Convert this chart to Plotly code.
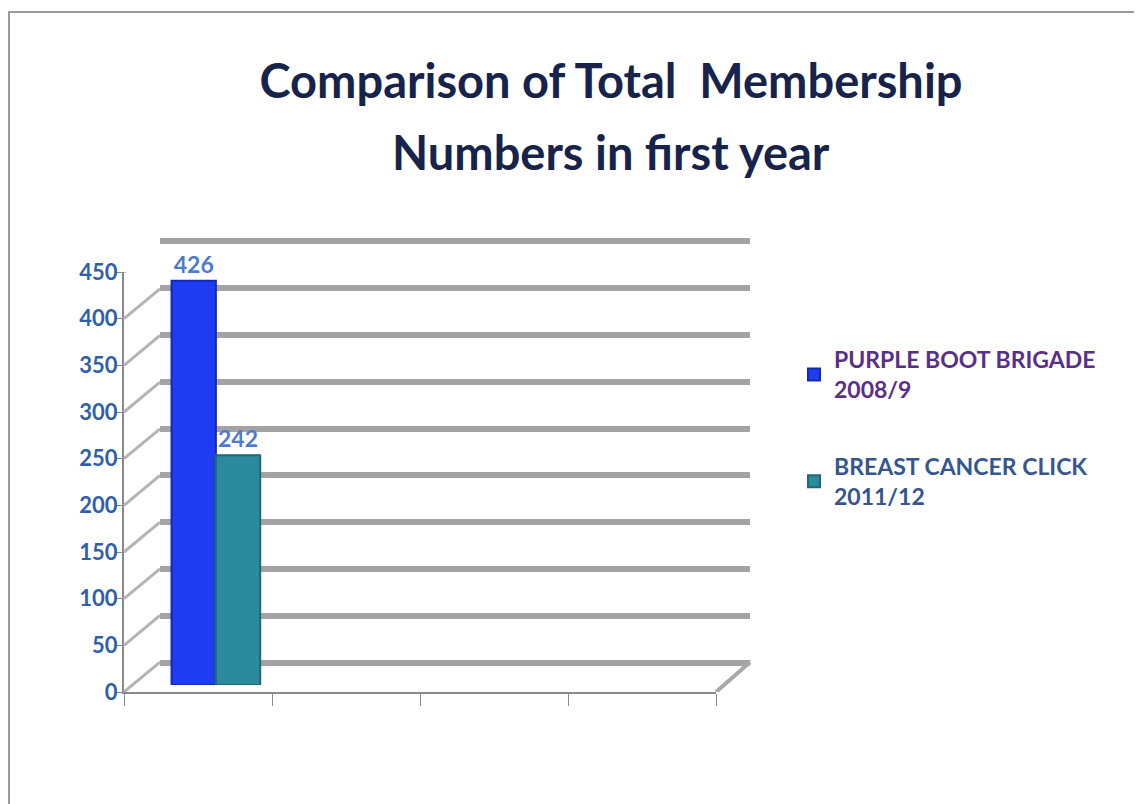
"""
Comparison of total membership numbers in the first year (3D-style bar chart).
"""
import plotly.graph_objects as go

# data
title_lines = ["Comparison of Total  Membership", "Numbers in first year"]
series_names = ["PURPLE BOOT BRIGADE<br>2008/9", "BREAST CANCER CLICK<br>2011/12"]
series_values = [426, 242]
category = ["first year"]
y_ticks = [0, 50, 100, 150, 200, 250, 300, 350, 400, 450]

bar_colors = ["#1e3cf2", "#2b8a9c"]
bar_edges = ["#1428b8", "#1f6876"]
legend_colors = ["#5a2f88", "#35578c"]

PAGE_OFFSET = 8  # default body margin of the html page
W, H = 1142 - PAGE_OFFSET, 804 - PAGE_OFFSET


def px_x(p):
    return (p - PAGE_OFFSET) / W


def px_y(p):
    return (H - (p - PAGE_OFFSET)) / H


# front face, back wall and a middle plane for the bars (fake depth)
front_x = [px_x(124), px_x(716)]
front_y = [px_y(692), px_y(272)]
back_x = [px_x(160), px_x(750)]
mid_x = [px_x(142), px_x(733)]
mid_y = [px_y(685), px_y(258)]
depth_units = 32  # vertical shift of the back wall, in y units

# back wall: 0 at 663px, 450 at 241px, padded so edge grid lines get drawn
back_pad = 10
back_scale = (663 - 241) / 450
back_y = [px_y(663 + back_pad * back_scale), px_y(241 - back_pad * back_scale)]
back_range = [-back_pad, 450 + back_pad]

fig = go.Figure()

for name, val, col, edge, lcol in zip(series_names, series_values, bar_colors,
                                      bar_edges, legend_colors):
    fig.add_trace(
        go.Bar(
            x=category,
            y=[val],
            name=f"<span style='color:{lcol}'>{name}</span>",
            legendgroup=name,
            marker=dict(color=col, line=dict(color=edge, width=2)),
            text=[val],
            textposition="outside",
            textfont=dict(family="Lato", size=23, color="#4d7bc9", weight="bold"),
            cliponaxis=False,
            xaxis="x3",
            yaxis="y3",
        )
    )

# empty trace so the back wall subplot (and its grid) gets drawn
fig.add_trace(go.Scatter(x=[None], y=[None], xaxis="x2", yaxis="y2",
                         showlegend=False, hoverinfo="skip"))

shapes = []
# left side wall
for v in y_ticks:
    shapes.append(dict(type="line", xref="paper", yref="y",
                       x0=front_x[0], y0=v, x1=back_x[0], y1=v + depth_units,
                       line=dict(color="#b4b4b4", width=3)))
# right edge of the floor
shapes.append(dict(type="line", xref="paper", yref="y",
                   x0=front_x[1], y0=0, x1=back_x[1], y1=depth_units,
                   line=dict(color="#a8a8a8", width=4)))
# picture frame
shapes.append(dict(type="rect", xref="paper", yref="paper",
                   x0=px_x(9), x1=px_x(1137), y0=-0.02, y1=px_y(12),
                   line=dict(color="#9a9a9a", width=2)))

fig.update_layout(
    width=W,
    height=H,
    autosize=False,
    margin=dict(l=0, r=0, t=0, b=0, pad=0, autoexpand=False),
    paper_bgcolor="white",
    plot_bgcolor="rgba(0,0,0,0)",
    font=dict(family="Lato", color="#17234a"),
    title=dict(
        text=title_lines[0],
        x=px_x(611), xanchor="center", y=px_y(82), yanchor="middle",
        font=dict(family="Lato", size=47, color="#17234a", weight="bold"),
        automargin=False,
    ),
    annotations=[dict(
        text=title_lines[1], xref="paper", yref="paper",
        x=px_x(611), xanchor="center", y=px_y(152), yanchor="middle",
        showarrow=False,
        font=dict(family="Lato", size=47, color="#17234a", weight="bold"),
    )],
    barmode="group",
    bargap=0.4,
    bargroupgap=0,
    showlegend=True,
    legend=dict(
        x=px_x(794), y=px_y(338), xanchor="left", yanchor="top",
        font=dict(family="Lato", size=23, weight="bold"),
        tracegroupgap=44,
        bgcolor="rgba(0,0,0,0)",
    ),
    # front face
    xaxis=dict(domain=front_x, range=[0, 4], dtick=1, showgrid=False,
               zeroline=False, showline=True, linecolor="#8a8a8a", linewidth=2,
               ticks="outside", ticklen=12, tickcolor="#8a8a8a",
               showticklabels=False, anchor="y", automargin=False),
    yaxis=dict(domain=front_y, range=[0, 450], tickvals=y_ticks,
               showgrid=False, zeroline=False, showline=True,
               linecolor="#8a8a8a", linewidth=2, ticks="outside", ticklen=6,
               tickcolor="#8a8a8a", anchor="x", automargin=False,
               ticklabelstandoff=-6,
               tickfont=dict(family="Lato", size=22, color="#2f5fa8",
                             weight="bold")),
    # back wall
    xaxis2=dict(domain=back_x, range=[0, 4], showgrid=False, zeroline=False,
                showticklabels=False, ticks="", anchor="y2", automargin=False),
    yaxis2=dict(domain=back_y, range=back_range, tickvals=y_ticks,
                showgrid=True, gridcolor="#a3a3a3", gridwidth=6,
                zeroline=False, showline=False, showticklabels=False, ticks="",
                anchor="x2", automargin=False),
    # bar plane
    xaxis3=dict(domain=mid_x, type="category",
                categoryarray=category + ["slot 2", "slot 3", "slot 4"],
                categoryorder="array", range=[-0.5, 3.5], showgrid=False,
                zeroline=False, showticklabels=False, ticks="", anchor="y3",
                automargin=False),
    yaxis3=dict(domain=mid_y, range=[0, 450], showgrid=False, zeroline=False,
                showticklabels=False, ticks="", anchor="x3", automargin=False),
    shapes=shapes,
)

fig.write_html("out.html")
